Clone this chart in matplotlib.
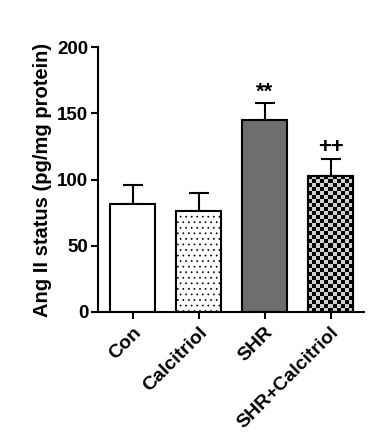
import matplotlib
matplotlib.use("Agg")
import matplotlib.pyplot as plt
import numpy as np

groups = ["Con", "Calcitriol", "SHR", "SHR+Calcitriol"]
means = [81.5, 76.5, 145, 103]
sem = [14.5, 13.5, 12.5, 12.5]
marks = ["", "", "**", "++"]

plt.rcParams['font.family'] = ['Liberation Sans', 'DejaVu Sans']
plt.rcParams['font.weight'] = 'bold'
plt.rcParams['hatch.linewidth'] = 0.5

fig = plt.figure(figsize=(3.87, 4.40), dpi=100)
ax = fig.add_axes([0.253, 0.291, 0.688, 0.602])

x = np.arange(len(groups))
faces = ["white", "white", "#6e6e6e", "black"]
bars = ax.bar(x, means, width=0.68, color=faces, edgecolor="black",
              linewidth=1.5, zorder=2)
bars[1].set_hatch("...")
ax.errorbar(x, means, yerr=[np.zeros(len(sem)), sem], fmt="none",
            ecolor="black", elinewidth=1.5, capsize=7.5, capthick=1.5, zorder=1)

# checkerboard fill for the last bar
b = bars[3]
x0, y0 = b.get_x(), b.get_y()
w, h = b.get_width(), b.get_height()
nx = 11
ny = int(round(nx * (h / 200 * 265) / (w / 4.04 * 266)))
board = (np.add.outer(np.arange(ny), np.arange(nx)) % 2)
img = ax.imshow(board, cmap=matplotlib.colors.ListedColormap(["black", "#cfcfcf"]),
                extent=[x0, x0 + w, y0, y0 + h], aspect="auto",
                interpolation="nearest", zorder=2.5)
img.set_clip_path(b)
ax.bar(x[3], means[3], width=0.68, color="none", edgecolor="black",
       linewidth=1.5, zorder=3)

for xi, m, s, t in zip(x, means, sem, marks):
    if t:
        ax.text(xi, m + s + 0.5, t, ha="center", va="bottom", fontsize=16,
                fontweight="bold")

ax.set_xlim(-0.53, 3.51)
ax.set_ylim(0, 200)
ax.set_yticks([0, 50, 100, 150, 200])
ax.set_xticks(x)
ax.set_xticklabels(groups, rotation=45, ha="right", rotation_mode="anchor",
                   fontsize=14, fontweight="bold")
ax.tick_params(axis="y", labelsize=13.5, width=1.5, length=5, pad=2)
ax.tick_params(axis="x", width=1.5, length=5)
for lab in ax.get_yticklabels():
    lab.set_fontweight("bold")
ax.set_ylabel("Ang II status (pg/mg protein)", fontsize=14.5, fontweight="bold",
              labelpad=4)
ax.spines["top"].set_visible(False)
ax.spines["right"].set_visible(False)
ax.spines["left"].set_linewidth(1.5)
ax.spines["bottom"].set_linewidth(1.5)

fig.savefig("out.png", dpi=100)
